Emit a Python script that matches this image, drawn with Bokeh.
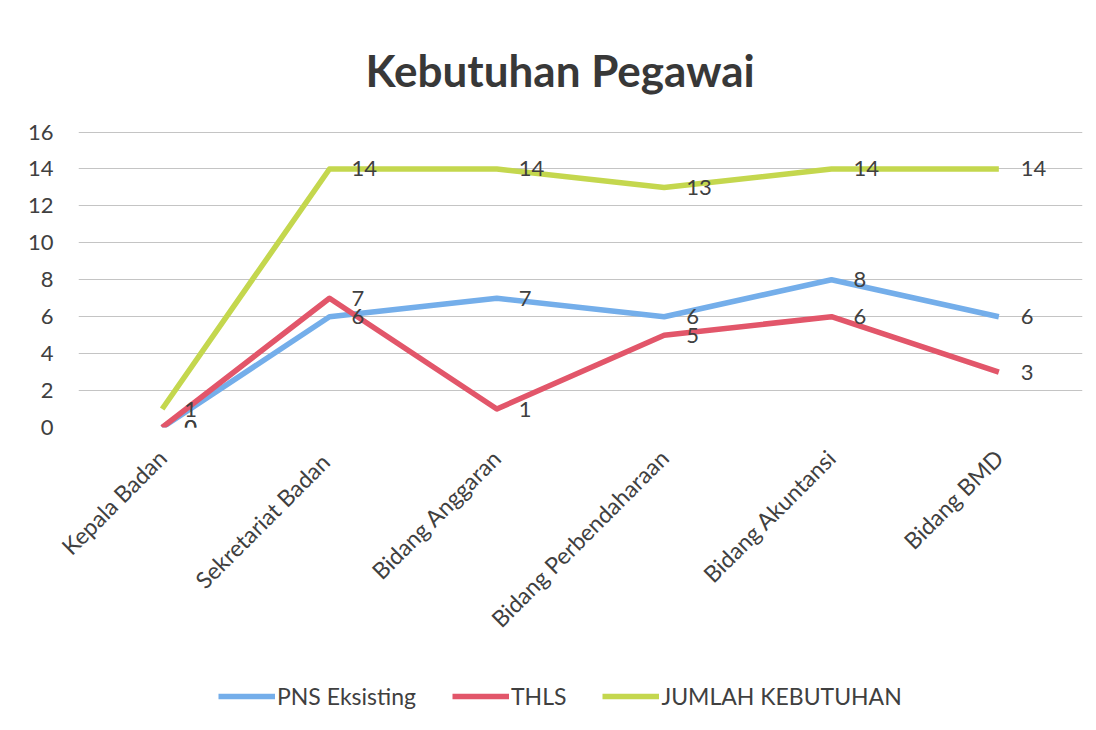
import math
from bokeh.plotting import figure
from bokeh.layouts import column
from bokeh.models import Range1d, Legend, LegendItem, ColumnDataSource
from bokeh.core.properties import value
from bokeh.embed import file_html
from bokeh.resources import INLINE

categories = ["Kepala Badan", "Sekretariat  Badan", "Bidang Anggaran",
              "Bidang Perbendaharaan", "Bidang Akuntansi", "Bidang BMD"]
pns_eksisting = [0, 6, 7, 6, 8, 6]
thls = [0, 7, 1, 5, 6, 3]
jumlah_kebutuhan = [1, 14, 14, 13, 14, 14]
series_names = ["PNS Eksisting", "THLS", "JUMLAH KEBUTUHAN"]
y_ticks = [0, 2, 4, 6, 8, 10, 12, 14, 16]

colors = ["#74AEEA", "#E2566A", "#C4D74E"]
FONT = "Lato"
TXT = "#404040"
series_values = [pns_eksisting, thls, jumlah_kebutuhan]

p = figure(x_range=categories, y_range=Range1d(0, 16.03),
           output_backend="svg", toolbar_location=None,
           title="Kebutuhan Pegawai",
           min_border_left=78, min_border_right=6, min_border_top=131, min_border_bottom=250,
           frame_width=1004, frame_height=296)

p.title.align = "left"
p.title.offset = 287
p.title.text_font = FONT
p.title.text_font_size = "44px"
p.title.text_font_style = "bold"
p.title.text_color = "#383838"
p.title.standoff = 72

p.outline_line_color = None
p.xgrid.grid_line_color = None
p.ygrid.grid_line_color = "#C4C4C4"
p.ygrid.grid_line_width = 1
p.yaxis.ticker = y_ticks

for ax in (p.xaxis, p.yaxis):
    ax.axis_line_color = None
    ax.major_tick_line_color = None
    ax.minor_tick_line_color = None
    ax.major_tick_in = 0
    ax.major_tick_out = 0
    ax.major_label_text_font = FONT
    ax.major_label_text_color = TXT

p.yaxis.major_label_text_font_size = "22px"
p.yaxis.major_label_standoff = 25
p.xaxis.major_label_text_font_size = "23px"
p.xaxis.major_label_orientation = math.pi / 4
p.xaxis.major_label_standoff = 26

for name, vals, col in zip(series_names, series_values, colors):
    src = ColumnDataSource(dict(x=categories, y=vals))
    p.line("x", "y", source=src, line_color=col, line_width=5.5, line_join="round")

for name, vals in zip(series_names, series_values):
    src = ColumnDataSource(dict(x=categories, y=vals, t=[str(v) for v in vals]))
    p.text("x", "y", text="t", source=src, x_offset=22, text_align="left",
           text_baseline="middle", text_font=value(FONT), text_font_size="22px",
           text_color=TXT)

# legend strip below the chart (its lines lie outside its own range)
lg = figure(x_range=categories, y_range=Range1d(100, 101), width=1088, height=40,
            output_backend="svg", toolbar_location=None,
            x_axis_type=None, y_axis_type=None, min_border=0)
lg.outline_line_color = None
lg.grid.grid_line_color = None
items = []
for name, vals, col in zip(series_names, series_values, colors):
    r = lg.line(categories, vals, line_color=col, line_width=5.5)
    items.append(LegendItem(label=name, renderers=[r]))

legend = Legend(items=items, orientation="horizontal", location=(140, 7),
                label_text_font=FONT, label_text_font_size="23px", label_text_color=TXT,
                glyph_width=57, glyph_height=20, label_standoff=2, spacing=36,
                padding=0, margin=0, border_line_color=None, background_fill_alpha=0)
lg.add_layout(legend, "center")

layout = column(p, lg, spacing=0)
open("out.html", "w").write(file_html(layout, INLINE))
